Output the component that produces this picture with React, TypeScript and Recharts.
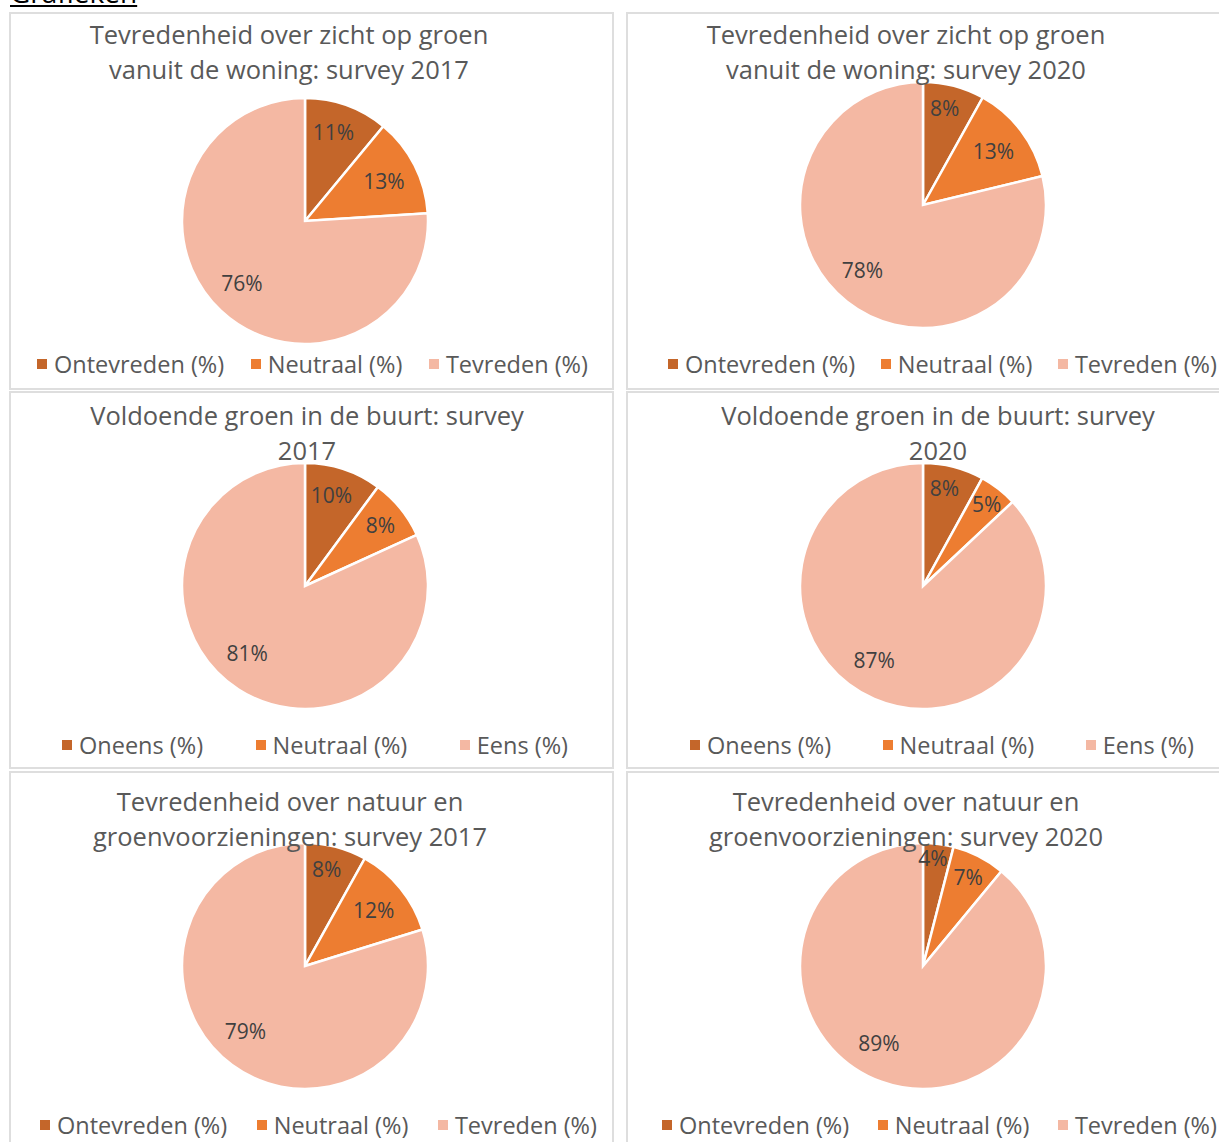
import React from 'react';
import { PieChart, Pie, Cell, Legend } from 'recharts';

// ---- data ----
const sliceColors = ['#C4662A', '#ED7D31', '#F4B8A3'];
const satisfactionLabels = ['Ontevreden (%)', 'Neutraal (%)', 'Tevreden (%)'];
const agreementLabels = ['Oneens (%)', 'Neutraal (%)', 'Eens (%)'];

const zicht2017 = [11, 13, 76];
const zicht2020 = [8, 13, 78];
const buurt2017 = [10, 8, 81];
const buurt2020 = [8, 5, 87];
const natuur2017 = [8, 12, 79];
const natuur2020 = [4, 7, 89];

const titleZicht2017 = ['Tevredenheid over zicht op groen', 'vanuit de woning: survey 2017'];
const titleZicht2020 = ['Tevredenheid over zicht op groen', 'vanuit de woning: survey 2020'];
const titleBuurt2017 = ['Voldoende groen in de buurt: survey', '2017'];
const titleBuurt2020 = ['Voldoende groen in de buurt: survey', '2020'];
const titleNatuur2017 = ['Tevredenheid over natuur en', 'groenvoorzieningen: survey 2017'];
const titleNatuur2020 = ['Tevredenheid over natuur en', 'groenvoorzieningen: survey 2020'];

const heading = 'Grafieken';

const FONT = '"Open Sans", sans-serif';
const RAD = Math.PI / 180;
const PW = 605;
const PH = 378;

function buildData(labels: string[], values: number[]) {
  return values.map((v, i) => ({ name: labels[i], value: v, fill: sliceColors[i] }));
}

function renderLabel(props: any) {
  const { cx, cy, midAngle, outerRadius, percent, value, index } = props;
  const k = 0.72 + Math.max(0, 0.12 - percent) * 1.8 + (index === 0 ? 0.02 : 0);
  const r = outerRadius * k;
  // large slices: label nudged a little further clockwise (as the reference places them)
  let shift = percent > 0.5 ? Math.min(10, 3 + (percent - 0.768) * 100) : 0;
  if (index === 0) shift = -2;
  const a = midAngle - shift;
  const x = cx + r * Math.cos(-a * RAD);
  const y = cy + r * Math.sin(-a * RAD);
  return (
    <text x={x} y={y} fill="#404040" fontSize={21} fontFamily={FONT} textAnchor="middle" dominantBaseline="central">
      {value}%
    </text>
  );
}

function makeLegend(labels: string[], left: number, right: number) {
  return (props: any) => {
    const payload = [...(props.payload || [])].sort(
      (a: any, b: any) => labels.indexOf(a.value) - labels.indexOf(b.value)
    );
    return (
      <div
        style={{
          display: 'flex',
          justifyContent: 'space-between',
          alignItems: 'center',
          marginLeft: left,
          width: right - left,
          fontFamily: FONT,
          fontSize: 23.5,
          color: '#595959',
          lineHeight: '30px',
          whiteSpace: 'nowrap',
        }}
      >
        {payload.map((p: any, i: number) => (
          <div key={i} style={{ display: 'flex', alignItems: 'center' }}>
            <span
              style={{
                width: 10,
                height: 10,
                background: p.color || sliceColors[labels.indexOf(p.value)],
                marginRight: 7,
                display: 'inline-block',
              }}
            />
            <span>{p.value}</span>
          </div>
        ))}
      </div>
    );
  };
}

type PanelProps = {
  x: number;
  y: number;
  title: string[];
  titleCx: number;
  titleY: number;
  labels: string[];
  values: number[];
  cx: number;
  cy: number;
  legendL: number;
  legendR: number;
  legendY: number;
};

function Panel(p: PanelProps) {
  const data = buildData(p.labels, p.values);
  return (
    <div style={{ position: 'absolute', left: p.x, top: p.y, width: PW, height: PH }}>
      <div
        style={{
          position: 'absolute',
          left: 0,
          top: 0,
          width: PW,
          height: PH,
          boxSizing: 'border-box',
          border: '2px solid #DEDEDE',
        }}
      />
      <div style={{ position: 'absolute', left: 0, top: 0 }}>
        <PieChart width={PW} height={PH} margin={{ top: 0, right: 0, bottom: 0, left: 0 }}>
          <Pie
            data={data}
            dataKey="value"
            nameKey="name"
            cx={p.cx}
            cy={p.cy}
            outerRadius={123}
            startAngle={90}
            endAngle={-270}
            stroke="#FFFFFF"
            strokeWidth={2.5}
            label={renderLabel}
            labelLine={false}
            isAnimationActive={false}
          >
            {data.map((d, i) => (
              <Cell key={i} fill={d.fill} />
            ))}
          </Pie>
          <Legend
            content={makeLegend(p.labels, p.legendL, p.legendR)}
            verticalAlign="bottom"
            wrapperStyle={{ left: 0, top: p.legendY - 15, bottom: 'auto', width: PW, height: 30 }}
          />
        </PieChart>
      </div>
      <div
        style={{
          position: 'absolute',
          left: p.titleCx - 300,
          width: 600,
          top: p.titleY - 17.5,
          textAlign: 'center',
          fontFamily: FONT,
          fontSize: 25.5,
          lineHeight: '35px',
          color: '#595959',
          whiteSpace: 'nowrap',
          pointerEvents: 'none',
        }}
      >
        {p.title.map((t, i) => (
          <div key={i}>{t}</div>
        ))}
      </div>
    </div>
  );
}

export default function App() {
  return (
    <div
      style={{
        position: 'absolute',
        left: 0,
        top: 0,
        width: 1219,
        height: 1142,
        overflow: 'hidden',
        background: '#FFFFFF',
      }}
    >
      <div
        style={{
          position: 'absolute',
          left: 10,
          top: -23,
          fontFamily: FONT,
          fontSize: 28,
          lineHeight: '30px',
          color: '#000000',
          textDecoration: 'underline',
        }}
      >
        {heading}
      </div>
      <Panel x={9} y={12} title={titleZicht2017} titleCx={280} titleY={22.5} labels={satisfactionLabels} values={zicht2017}
        cx={296} cy={209} legendL={28} legendR={579} legendY={352} />
      <Panel x={626} y={12} title={titleZicht2020} titleCx={280} titleY={22.5} labels={satisfactionLabels} values={zicht2020}
        cx={297} cy={193} legendL={42} legendR={591} legendY={352} />
      <Panel x={9} y={391} title={titleBuurt2017} titleCx={298} titleY={24} labels={agreementLabels} values={buurt2017}
        cx={296} cy={195} legendL={53} legendR={559} legendY={354} />
      <Panel x={626} y={391} title={titleBuurt2020} titleCx={312} titleY={24} labels={agreementLabels} values={buurt2020}
        cx={297} cy={195} legendL={64} legendR={568} legendY={354} />
      <Panel x={9} y={771} title={titleNatuur2017} titleCx={281} titleY={30} labels={satisfactionLabels} values={natuur2017}
        cx={296} cy={195} legendL={31} legendR={588} legendY={354} />
      <Panel x={626} y={771} title={titleNatuur2020} titleCx={280} titleY={30} labels={satisfactionLabels} values={natuur2020}
        cx={297} cy={195} legendL={36} legendR={591} legendY={354} />
    </div>
  );
}
